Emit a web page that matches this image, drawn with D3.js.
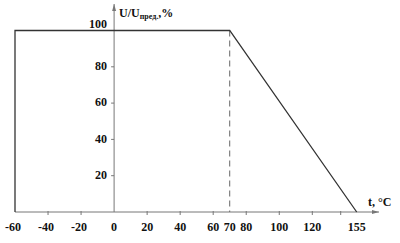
<!DOCTYPE html>
<html>
<head>
<meta charset="utf-8">
<script src="https://cdn.jsdelivr.net/npm/d3@7"></script>
<style>
  body { margin: 0; background: #fff; }
  text { font-family: "Liberation Serif", "Times New Roman", serif; font-weight: bold; fill: #111; }
</style>
</head>
<body>
<div id="chart"></div>
<script>
// derating curve: temperature (°C) vs allowed voltage (% of limit)
var tempPoints = [-60, -60, 70, 155];
var voltagePct = [0, 100, 100, 0];
var kneeTemp = 70;

var xTicks = [-60, -40, -20, 0, 20, 40, 60, 70, 80, 100, 120, 140, 155];
var xTickLabels = ["-60", "-40", "-20", "0", "20", "40", "60", "70", "80", "100", "120", "", "155"];
var yTicks = [20, 40, 60, 80, 100];
var yTickLabels = ["20", "40", "60", "80", "100"];

var width = 400;
var height = 243;

var svg = d3.select("#chart").append("svg").attr("width", width).attr("height", height);

// axis drawn by hand past 120, so the scale is piecewise
var x = d3.scaleLinear().domain([-60, 120, 140, 155]).range([15, 312.3, 340.7, 356.7]);
var y = d3.scaleLinear().domain([0, 100]).range([212, 30.5]);

var axisColor = "#777";
var lineColor = "#333";

// x axis
svg.append("line")
  .attr("x1", x(-60)).attr("x2", 379)
  .attr("y1", y(0)).attr("y2", y(0))
  .attr("stroke", axisColor).attr("stroke-width", 1);
svg.append("path")
  .attr("d", "M379," + y(0) + "l-7,-2l0,4z")
  .attr("fill", axisColor);

// y axis
svg.append("line")
  .attr("x1", x(0)).attr("x2", x(0))
  .attr("y1", y(0)).attr("y2", 4)
  .attr("stroke", axisColor).attr("stroke-width", 1);
svg.append("path")
  .attr("d", "M" + x(0) + ",4l-2,7l4,0z")
  .attr("fill", axisColor);

// x ticks
xTicks.forEach(function (t, i) {
  if (t !== 0 && t !== -60 && t !== kneeTemp && t !== 155) {
    svg.append("line")
      .attr("x1", x(t)).attr("x2", x(t))
      .attr("y1", y(0) - 1).attr("y2", y(0) + 3)
      .attr("stroke", axisColor);
  }
  svg.append("text")
    .attr("x", x(t) + (t < 0 ? -2 : 0))
    .attr("y", 231)
    .attr("text-anchor", "middle")
    .style("font-size", "12px")
    .text(xTickLabels[i]);
});

// y ticks
yTicks.forEach(function (t, i) {
  svg.append("line")
    .attr("x1", x(0) - 3).attr("x2", x(0))
    .attr("y1", y(t)).attr("y2", y(t))
    .attr("stroke", axisColor);
  svg.append("text")
    .attr("x", 107)
    .attr("y", y(t) - (t === 100 ? 7 : 1))
    .attr("dy", "0.35em")
    .attr("text-anchor", "end")
    .style("font-size", "12px")
    .text(yTickLabels[i]);
});

// dashed knee marker
svg.append("line")
  .attr("x1", x(kneeTemp)).attr("x2", x(kneeTemp))
  .attr("y1", y(100)).attr("y2", y(0))
  .attr("stroke", "#666")
  .attr("stroke-width", 1)
  .attr("stroke-dasharray", "6,4");

// curve
var pts = tempPoints.map(function (t, i) {
  return [x(t), y(voltagePct[i])];
});
svg.append("path")
  .attr("d", d3.line()(pts))
  .attr("fill", "none")
  .attr("stroke", lineColor)
  .attr("stroke-width", 1.3);

// axis titles
var yTitle = svg.append("text")
  .attr("x", 119)
  .attr("y", 17)
  .style("font-size", "12px");
yTitle.append("tspan").text("U/U");
yTitle.append("tspan").attr("dy", 2).style("font-size", "8px").text("пред.");
yTitle.append("tspan").attr("dy", -2).text(",%");

svg.append("text")
  .attr("x", 368)
  .attr("y", 206)
  .style("font-size", "12px")
  .text("t, °C");
</script>
</body>
</html>
